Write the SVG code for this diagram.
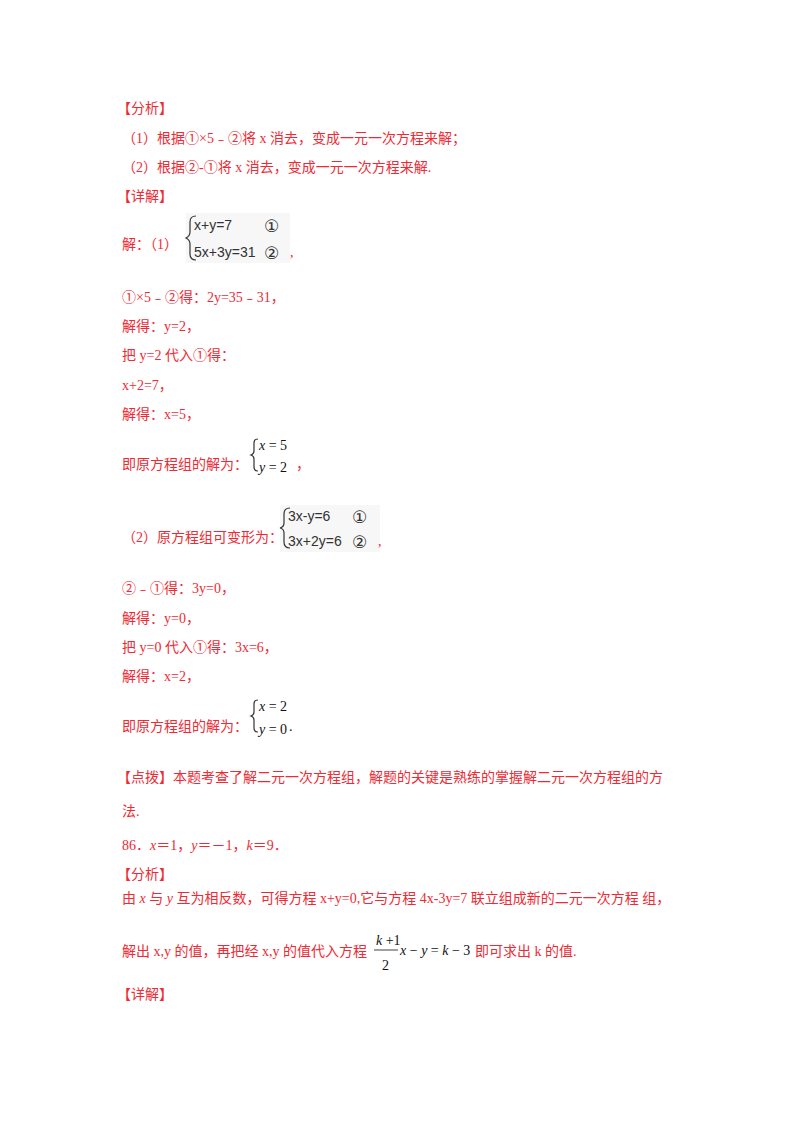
<svg xmlns="http://www.w3.org/2000/svg" width="800" height="1132" viewBox="0 0 800 1132">
<style>
.r{fill:#ee2a35;font-family:"Liberation Serif","Noto Sans CJK SC",serif;font-size:14px}
.e{fill:#333;font-family:"Liberation Sans",sans-serif;font-size:14px}
.c{fill:#333;font-family:"DejaVu Sans",sans-serif;font-size:17px}
.m{fill:#111;font-family:"Liberation Serif",serif;font-size:14px}
.i{font-style:italic}
.b{fill:none;stroke:#333;stroke-width:1.2}
</style>
<rect width="800" height="1132" fill="#fff"/>
<text class="r" x="117" y="113">【分析】</text>
<text class="r" x="122" y="143">（1）根据①×5﹣②将 x 消去，变成一元一次方程来解；</text>
<text class="r" x="122" y="172">（2）根据②-①将 x 消去，变成一元一次方程来解.</text>
<text class="r" x="117" y="201">【详解】</text>
<text class="r" x="122" y="249">解：（1）</text>
<rect x="186" y="213" width="104" height="50" fill="#f7f7f7"/>
<path class="b" d="M196,216 q-6,0 -6,6 v10 q0,4 -4,6 q4,2 4,6 v10 q0,6 6,6"/>
<text class="e" x="194" y="230">x+y=7</text><text class="c" x="264" y="232">①</text>
<text class="e" x="194" y="257">5x+3y=31</text><text class="c" x="264" y="259">②</text>
<text class="r" x="290" y="257">,</text>
<text class="r" x="122" y="302">①×5﹣②得：2y=35﹣31，</text>
<text class="r" x="122" y="331">解得：y=2，</text>
<text class="r" x="122" y="360">把 y=2 代入①得：</text>
<text class="r" x="122" y="390">x+2=7，</text>
<text class="r" x="122" y="419">解得：x=5，</text>
<text class="r" x="122" y="469">即原方程组的解为：</text>
<path class="b" d="M258,439 q-4,0 -4,4 v8 q0,3 -3,4 q3,1 3,4 v8 q0,4 4,4" stroke="#111"/>
<text class="m" x="259" y="450"><tspan class="i">x</tspan> = 5</text>
<text class="m" x="259" y="472"><tspan class="i">y</tspan> = 2</text>
<text class="r" x="296" y="469">，</text>
<text class="r" x="122" y="542">（2）原方程组可变形为：</text>
<rect x="280" y="505" width="100" height="47" fill="#f7f7f7"/>
<path class="b" d="M290,508 q-6,0 -6,6 v9 q0,4 -4,5 q4,1 4,5 v9 q0,6 6,6"/>
<text class="e" x="288" y="521">3x-y=6</text><text class="c" x="352" y="523">①</text>
<text class="e" x="288" y="546">3x+2y=6</text><text class="c" x="352" y="548">②</text>
<text class="r" x="378" y="546">,</text>
<text class="r" x="122" y="593">②﹣①得：3y=0，</text>
<text class="r" x="122" y="623">解得：y=0，</text>
<text class="r" x="122" y="652">把 y=0 代入①得：3x=6，</text>
<text class="r" x="122" y="681">解得：x=2，</text>
<text class="r" x="122" y="731">即原方程组的解为：</text>
<path class="b" d="M258,700 q-4,0 -4,4 v8 q0,3 -3,4 q3,1 3,4 v8 q0,4 4,4" stroke="#111"/>
<text class="m" x="259" y="711"><tspan class="i">x</tspan> = 2</text>
<text class="m" x="259" y="734"><tspan class="i">y</tspan> = 0</text>
<text class="m" x="289" y="731">.</text>
<text class="r" x="117" y="782">【点拨】本题考查了解二元一次方程组，解题的关键是熟练的掌握解二元一次方程组的方</text>
<text class="r" x="122" y="816">法.</text>
<text class="r" x="122" y="850">86．<tspan class="i">x</tspan>＝1，<tspan class="i">y</tspan>＝－1，<tspan class="i">k</tspan>＝9．</text>
<text class="r" x="117" y="879">【分析】</text>
<text class="r" x="122" y="903">由 <tspan class="i">x</tspan> 与 <tspan class="i">y</tspan> 互为相反数，可得方程 x+y=0,它与方程 4x-3y=7 联立组成新的二元一次方程 组，</text>
<text class="r" x="122" y="956">解出 x,y 的值，再把经 x,y 的值代入方程</text>
<text class="m" x="376" y="945"><tspan class="i">k</tspan> +1</text>
<line x1="374" y1="950" x2="398" y2="950" stroke="#111" stroke-width="0.8"/>
<text class="m" x="382" y="970">2</text>
<text class="m" x="400" y="955"><tspan class="i">x</tspan> − <tspan class="i">y</tspan> = <tspan class="i">k</tspan> − 3</text>
<text class="r" x="475" y="956">即可求出 k 的值.</text>
<text class="r" x="117" y="999">【详解】</text>
</svg>
